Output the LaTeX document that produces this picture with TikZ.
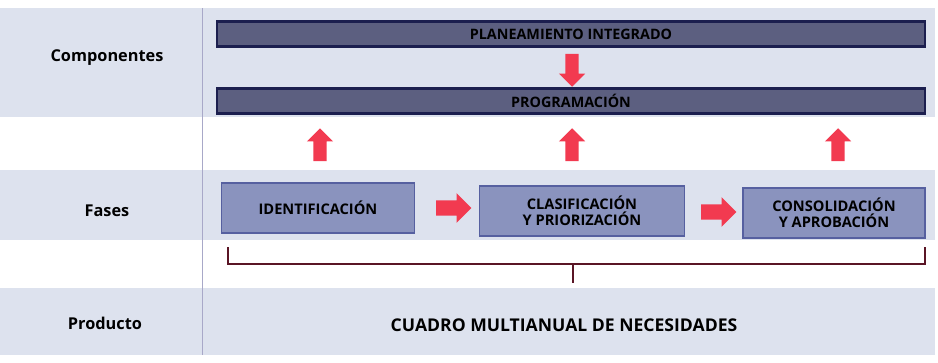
\documentclass[tikz,border=0pt]{standalone}
\usepackage{fontspec}
\setmainfont{Open Sans}
\usetikzlibrary{shapes.arrows,positioning}

\definecolor{bandfill}{HTML}{DDE2EE}
\definecolor{barfill}{HTML}{5C5F80}
\definecolor{barline}{HTML}{1C1F4F}
\definecolor{boxfill}{HTML}{8A93BE}
\definecolor{boxline}{HTML}{5660A0}
\definecolor{arrowred}{HTML}{F23A50}
\definecolor{bracered}{HTML}{5A1525}
\definecolor{divline}{HTML}{A8A8C8}

\begin{document}
\begin{tikzpicture}[x=0.025cm,y=-0.025cm,
  band/.style={fill=bandfill,draw=none},
  comp bar/.style={draw=barline,line width=1.6pt,fill=barfill,
    minimum width=17.7cm,minimum height=0.62cm,inner sep=0pt,
    font=\bfseries\fontsize{10.2}{12}\selectfont},
  fase box/.style={draw=boxline,line width=1pt,fill=boxfill,
    minimum height=1.25cm,align=center,inner sep=2pt,
    font=\bfseries\fontsize{10.4}{11.5}\selectfont},
  up arrow/.style={single arrow,fill=arrowred,draw=none,
    inner sep=0.16cm,minimum height=0.82cm,
    single arrow head extend=0.16cm,shape border rotate=90},
  down arrow/.style={up arrow,shape border rotate=270},
  right arrow/.style={up arrow,minimum height=0.88cm,inner sep=0.185cm,
    single arrow head extend=0.18cm,shape border rotate=0},
  row label/.style={font=\bfseries\fontsize{11.6}{13}\selectfont}]

  % page and bands
  \fill[white] (0,0) rectangle (938,362);
  \path[band] (0,8) rectangle (935,117);
  \path[band] (0,170) rectangle (935,240);
  \path[band] (0,288) rectangle (935,355);
  \draw[divline,line width=0.6pt] (202,8) -- (202,355);

  % row labels
  \node[row label] (lcomp) at (107,58) {Componentes};
  \node[row label] (lfases) at (107,211) {Fases};
  \node[row label] (lprod) at (105,323) {Producto};

  % components
  \node[comp bar] (plan) at (571,34) {PLANEAMIENTO INTEGRADO};
  \node[comp bar] (prog) at (571,101) {PROGRAMACIÓN};
  \node[down arrow] (dplan) at (572,67) {};

  % phases
  \node[fase box,minimum width=4.82cm] (ident) at (318,208) {IDENTIFICACIÓN};
  \node[fase box,minimum width=5.12cm] (clasif) at (582,211) {CLASIFICACIÓN\\Y PRIORIZACIÓN};
  \node[fase box,minimum width=4.55cm] (consol) at (834,213) {CONSOLIDACIÓN\\Y APROBACIÓN};

  \node[right arrow] (r1) at (450,208) {};
  \node[right arrow] (r2) at (715,212) {};

  \node[up arrow] (u1) at (320,148) {};
  \node[up arrow] (u2) at (572,148) {};
  \node[up arrow] (u3) at (838,148) {};

  % brace to product
  \coordinate (bl) at (228,247);
  \coordinate (br) at (925,247);
  \coordinate (bm) at (573,264);
  \draw[bracered,line width=1.6pt] (bl) |- (br |- bm) -- (br);
  \draw[bracered,line width=1.6pt] (bm) -- ++(0,19);

  \node[font=\bfseries\fontsize{12.5}{14}\selectfont] (cuadro) at (564,325)
    {CUADRO MULTIANUAL DE NECESIDADES};

\end{tikzpicture}
\end{document}
